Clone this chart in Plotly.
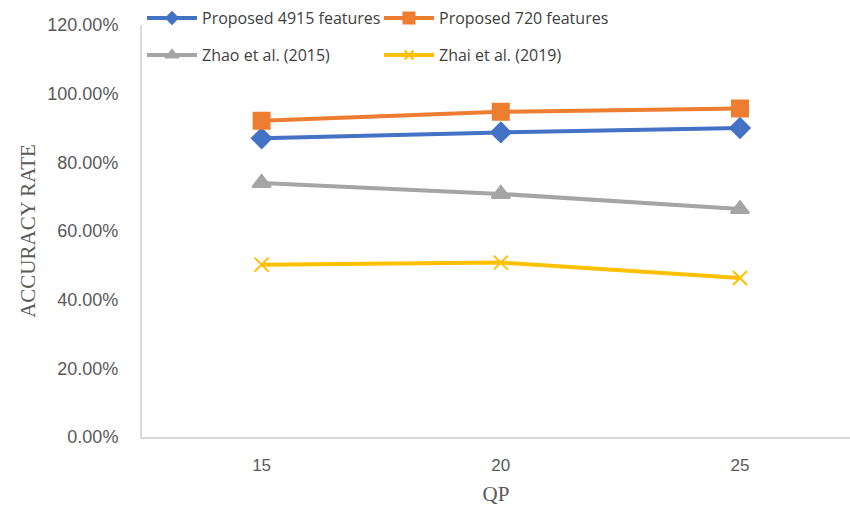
import plotly.graph_objects as go

qp = ["15", "20", "25"]
proposed_4915 = [0.870, 0.887, 0.900]
proposed_720 = [0.921, 0.947, 0.957]
zhao_2015 = [0.740, 0.708, 0.664]
zhai_2019 = [0.502, 0.508, 0.463]

names = ["Proposed 4915 features", "Proposed 720 features", "Zhao et al. (2015)", "Zhai et al. (2019)"]
series = [proposed_4915, proposed_720, zhao_2015, zhai_2019]
colors = ["#4472C4", "#ED7D31", "#A5A5A5", "#FFC000"]
symbols = ["diamond", "square", "triangle-up", "x-thin"]
sizes = [15, 16, 16, 14]
leg_sizes = [9, 11, 10, 9]
legends = ["legend", "legend", "legend2", "legend2"]

fig = go.Figure()
for n, s, c, sym, sz, lg in zip(names, series, colors, symbols, sizes, legends):
    fig.add_trace(go.Scatter(
        x=qp, y=s, name=n, mode="lines+markers",
        line=dict(color=c, width=4),
        marker=dict(symbol=sym, size=sz, color=c, line=dict(color=c, width=2)),
        showlegend=False,
    ))
# legend entries with smaller symbols
for n, c, sym, lsz, lg in zip(names, colors, symbols, leg_sizes, legends):
    fig.add_trace(go.Scatter(
        x=[None], y=[None], name=n, mode="lines+markers",
        line=dict(color=c, width=4),
        marker=dict(symbol=sym, size=lsz, color=c, line=dict(color=c, width=2)),
        legend=lg, showlegend=True,
    ))

legfont = dict(family="Open Sans, Liberation Sans, sans-serif", size=16, color="#404040")
fig.update_layout(
    width=850, height=514,
    margin=dict(l=142, r=0, t=25, b=77),
    paper_bgcolor="white", plot_bgcolor="white",
    showlegend=True,
    legend=dict(orientation="h", x=0.0, xanchor="left", y=1.017, yanchor="middle",
                font=legfont, entrywidth=172, entrywidthmode="pixels", itemwidth=50,
                bgcolor="rgba(0,0,0,0)"),
    legend2=dict(orientation="h", x=0.0, xanchor="left", y=0.927, yanchor="middle",
                 font=legfont, entrywidth=172, entrywidthmode="pixels", itemwidth=50,
                 bgcolor="rgba(0,0,0,0)"),
    xaxis=dict(
        type="category", range=[-0.5, 2.46],
        showline=True, linecolor="#D9D9D9", linewidth=2,
        showgrid=False, zeroline=False, ticks="",
        tickfont=dict(family="Liberation Sans, Arial, sans-serif", size=17, color="#595959"),
        ticklabelstandoff=12,
        title=dict(text="QP", font=dict(family="Liberation Serif, Times New Roman, serif", size=21, color="#595959"), standoff=12),
    ),
    yaxis=dict(
        range=[0, 1.2], dtick=0.2, tickformat=".2%",
        showline=True, linecolor="#D9D9D9", linewidth=2,
        showgrid=False, zeroline=False, ticks="",
        tickfont=dict(family="Liberation Sans, Arial, sans-serif", size=18, color="#595959"),
        ticklabelstandoff=18,
        title=dict(text="ACCURACY RATE", font=dict(family="Liberation Serif, Times New Roman, serif", size=21, color="#595959"), standoff=6),
    ),
)

fig.write_html("out.html")
